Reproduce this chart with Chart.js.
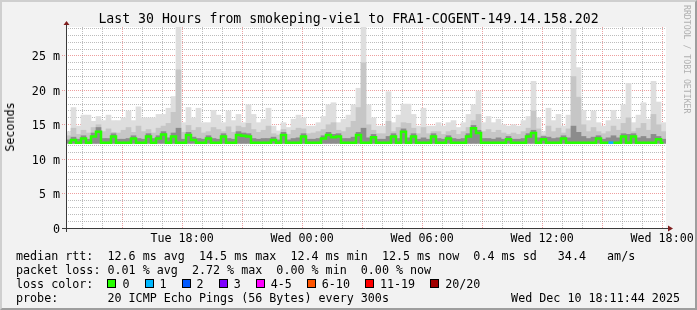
<!DOCTYPE html>
<html>
<head>
<meta charset="utf-8">
<script src="https://cdn.jsdelivr.net/npm/chart.js@4.4.1/dist/chart.umd.min.js"></script>
<style>
  html, body { margin: 0; padding: 0; background: #f2f2f2; }
  #wrap { position: relative; width: 697px; height: 310px; overflow: hidden; font-family: 'DejaVu Sans Mono', monospace; color: #000; }
  #c { position: absolute; left: 0; top: 0; }
  #frame { position: absolute; left: 0; top: 0; width: 697px; height: 310px; box-sizing: border-box;
           border: 2px solid; border-color: #cfcfcf #9e9e9e #9e9e9e #cfcfcf; pointer-events: none; }
  .title { position: absolute; left: 0; top: 11px; width: 697px; text-align: center; font-size: 13.2px; line-height: 16px; white-space: pre; }
  .ylab { position: absolute; left: 10px; top: 127px; font-size: 11.7px; line-height: 14px; transform: translate(-50%, -50%) rotate(-90deg); white-space: pre; }
  .mark { position: absolute; left: 682px; top: 5px; writing-mode: vertical-rl; font-size: 8.2px; line-height: 9px; color: #b0b0b0; white-space: pre; }
  .leg { position: absolute; left: 16px; font-size: 11.7px; line-height: 14px; white-space: pre; }
  .leg.right { left: auto; right: 17px; }
  .box { display: inline-block; width: 7px; height: 7px; border: 1px solid #000; margin-right: 6px; vertical-align: 0px; }
  .lbl { margin-right: 15px; }
</style>
</head>
<body>
<div id="wrap">
  <canvas id="c" width="697" height="310"></canvas>
  <div class="title">Last 30 Hours from smokeping-vie1 to FRA1-COGENT-149.14.158.202</div>
  <div class="ylab">Seconds</div>
  <div class="mark">RRDTOOL / TOBI OETIKER</div>
  <div class="leg" style="top:249px">median rtt:  12.6 ms avg  14.5 ms max  12.4 ms min  12.5 ms now  0.4 ms sd   34.4   am/s</div>
  <div class="leg" style="top:263px">packet loss: 0.01 % avg  2.72 % max  0.00 % min  0.00 % now</div>
  <div class="leg" id="lossRow" style="top:277px">loss color:  </div>
  <div class="leg" style="top:291px">probe:       20 ICMP Echo Pings (56 Bytes) every 300s</div>
  <div class="leg right" style="top:291px">Wed Dec 10 18:11:44 2025</div>
  <div id="frame"></div>
</div>
<script>
// time axis: hours counted from Tue 00:00, graph ends Wed 18:11:44
const T0 = 12 + 11 / 60 + 44 / 3600;
const SPAN = 30;
const STEP = 0.25;          // one smoke column = 15 min
const SMOKE_FLOOR = 12.3;   // ms

const xTickHours = [18, 24, 30, 36, 42];
const xTickLabels = ['Tue 18:00', 'Wed 00:00', 'Wed 06:00', 'Wed 12:00', 'Wed 18:00'];
const yTickValues = [0, 5, 10, 15, 20, 25];
const yTickLabels = ['0', '5 m', '10 m', '15 m', '20 m', '25 m'];

const lossLabels = ['0', '1', '2', '3', '4-5', '6-10', '11-19', '20/20'];
const lossColors = ['#26ff00', '#00b8ff', '#0059ff', '#7e00ff', '#ff00ff', '#ff5500', '#ff0000', '#a10000'];

// top of the lightest smoke (max ping), ms
const maxRtt = [
  14.0, 17.5, 14.8, 16.4, 16.4, 15.5, 16.2, 15.6, 16.4, 15.6,
  15.6, 16.0, 17.0, 15.6, 17.6, 16.0, 16.0, 16.0, 16.5, 16.5,
  17.4, 19.1, 29.2, 15.3, 17.5, 16.0, 17.4, 15.3, 15.3, 17.1,
  16.4, 15.3, 17.0, 15.6, 16.5, 15.3, 17.9, 16.5, 15.3, 15.8,
  17.4, 14.8, 14.1, 15.3, 14.6, 15.8, 16.4, 16.0, 14.8, 14.8,
  15.3, 16.2, 17.9, 18.2, 15.3, 15.8, 16.4, 17.9, 20.3, 29.2,
  17.9, 16.0, 14.8, 14.8, 19.8, 15.3, 16.4, 18.0, 18.0, 16.5,
  14.8, 17.4, 14.8, 14.8, 15.3, 14.8, 15.3, 15.6, 14.6, 15.3,
  16.5, 17.9, 19.9, 15.3, 16.2, 15.3, 15.8, 15.0, 14.8, 15.0,
  14.8, 15.6, 16.2, 21.3, 16.0, 14.0, 17.4, 15.6, 16.5, 14.8,
  16.4, 29.0, 23.3, 17.1, 15.6, 17.0, 15.3, 14.8, 15.6, 17.1,
  15.8, 17.9, 21.0, 15.3, 16.4, 18.2, 15.8, 21.3, 18.3, 15.3
];

// top of the medium smoke
const midRtt = [
  13.4, 14.5, 13.6, 14.2, 13.8, 14.6, 15.0, 14.0, 14.4, 13.9,
  13.8, 14.2, 14.6, 13.9, 14.8, 14.0, 14.3, 13.8, 14.5, 14.8,
  15.2, 16.8, 23.0, 13.9, 14.9, 14.2, 14.6, 13.8, 14.0, 14.6,
  14.3, 14.0, 14.7, 13.9, 14.8, 14.6, 15.2, 14.3, 13.9, 14.2,
  14.8, 13.7, 13.5, 14.3, 13.6, 14.2, 14.5, 14.4, 13.7, 13.8,
  14.0, 14.3, 15.0, 15.3, 14.2, 14.0, 14.6, 15.5, 17.5, 24.0,
  15.0, 14.2, 13.7, 13.7, 15.5, 14.0, 14.6, 15.3, 15.2, 14.5,
  13.7, 14.6, 13.7, 14.0, 14.0, 13.6, 14.0, 14.2, 13.6, 14.0,
  14.6, 15.6, 16.5, 14.0, 14.3, 13.9, 14.2, 13.8, 13.6, 13.8,
  13.6, 14.0, 14.5, 17.0, 14.4, 13.5, 14.8, 14.0, 14.5, 13.8,
  14.4, 22.0, 19.0, 15.0, 14.0, 14.6, 14.0, 13.7, 14.0, 14.8,
  14.2, 15.2, 16.0, 14.0, 14.5, 15.2, 14.2, 16.5, 15.0, 14.0
];

// top of the dark smoke close to the median
const darkRtt = [
  12.8, 13.2, 12.9, 13.4, 12.9, 13.8, 14.6, 13.0, 13.0, 13.7,
  12.9, 12.9, 13.0, 13.4, 13.0, 12.9, 13.7, 13.0, 13.4, 14.0,
  13.1, 13.8, 14.5, 12.9, 13.9, 13.2, 13.0, 12.9, 13.4, 13.0,
  12.9, 13.7, 13.0, 12.9, 14.0, 13.8, 13.7, 13.0, 12.9, 13.0,
  13.0, 13.2, 12.8, 13.9, 12.8, 13.0, 13.1, 13.7, 12.9, 12.9,
  13.0, 13.4, 13.9, 13.6, 13.7, 13.0, 13.0, 13.2, 13.9, 14.5,
  13.1, 13.6, 12.9, 12.9, 13.3, 13.7, 13.0, 14.4, 13.1, 13.7,
  12.9, 13.1, 12.9, 13.7, 13.0, 12.9, 13.4, 13.0, 12.9, 13.0,
  13.7, 14.9, 14.2, 13.0, 13.0, 12.9, 13.1, 12.9, 13.3, 12.9,
  12.9, 13.0, 13.7, 14.2, 13.1, 13.3, 13.2, 13.0, 13.1, 13.4,
  13.1, 14.8, 13.9, 13.3, 13.0, 13.2, 13.4, 12.9, 13.1, 13.4,
  13.1, 13.7, 13.6, 13.7, 13.1, 13.3, 13.0, 13.6, 13.3, 12.9
];

// median rtt
const medianRtt = [
  12.4, 12.8, 12.4, 13.0, 12.4, 13.3, 14.0, 12.4, 12.4, 13.3,
  12.4, 12.4, 12.4, 13.0, 12.4, 12.4, 13.3, 12.4, 13.0, 13.6,
  12.4, 13.3, 12.4, 12.4, 13.5, 12.8, 12.4, 12.4, 13.0, 12.4,
  12.4, 13.3, 12.4, 12.4, 13.5, 13.4, 13.3, 12.4, 12.4, 12.4,
  12.4, 12.8, 12.4, 13.5, 12.4, 12.4, 12.4, 13.3, 12.4, 12.4,
  12.4, 13.0, 13.5, 13.2, 13.3, 12.4, 12.4, 12.4, 13.5, 12.4,
  12.4, 13.2, 12.4, 12.4, 12.4, 13.3, 12.4, 14.0, 12.4, 13.3,
  12.4, 12.4, 12.4, 13.3, 12.4, 12.4, 13.0, 12.4, 12.4, 12.4,
  13.3, 14.5, 13.8, 12.4, 12.4, 12.4, 12.4, 12.4, 12.9, 12.4,
  12.4, 12.4, 13.3, 13.8, 12.4, 12.9, 12.4, 12.4, 12.4, 13.0,
  12.4, 12.4, 12.4, 12.4, 12.4, 12.4, 13.0, 12.4, 12.4, 12.4,
  12.4, 13.3, 12.4, 13.3, 12.4, 12.4, 12.4, 12.4, 12.9, 12.4
];

// columns with packet loss (pings lost out of 20)
const lossSlot = [109];
const lossCount = [1];

const MAJOR = 'rgba(222,79,79,0.55)';
const MINOR = 'rgba(143,143,143,0.6)';
const FONT = { family: "'DejaVu Sans Mono', monospace", size: 11.7 };

// loss color legend row
const row = document.getElementById('lossRow');
lossLabels.forEach((l, i) => {
  row.insertAdjacentHTML('beforeend',
    `<span class="box" style="background:${lossColors[i]}"></span><span class="lbl">${l}</span>`);
});

const xAt = i => T0 + STEP * (i + 0.5);
const band = top => top.map((v, i) => ({ x: xAt(i), y: [SMOKE_FLOOR, v] }));

function lossColorAt(i) {
  const k = lossSlot.indexOf(i);
  if (k < 0) return lossColors[0];
  return lossColors[Math.min(lossCount[k], 1)];
}

const rrdFrame = {
  id: 'rrdFrame',
  beforeDraw(chart) {
    const { ctx, chartArea: a } = chart;
    ctx.save();
    ctx.fillStyle = '#ffffff';
    ctx.fillRect(a.left, a.top, a.right - a.left, a.bottom - a.top);
    ctx.restore();
  },
  afterDraw(chart) {
    const { ctx, chartArea: a } = chart;
    const x0 = a.left + 0.5, y0 = a.bottom + 0.5;
    ctx.save();
    ctx.strokeStyle = '#3a3a3a';
    ctx.lineWidth = 1;
    ctx.beginPath();
    ctx.moveTo(x0, a.bottom + 4);
    ctx.lineTo(x0, a.top - 4);
    ctx.moveTo(a.left - 4, y0);
    ctx.lineTo(a.right + 3, y0);
    ctx.stroke();
    // arrows
    ctx.fillStyle = '#801f1f';
    ctx.beginPath();
    ctx.moveTo(x0 - 3, a.top - 2);
    ctx.lineTo(x0 + 3, a.top - 2);
    ctx.lineTo(x0, a.top - 6);
    ctx.closePath();
    ctx.fill();
    ctx.beginPath();
    ctx.moveTo(a.right + 2, y0 - 3);
    ctx.lineTo(a.right + 2, y0 + 3);
    ctx.lineTo(a.right + 7, y0);
    ctx.closePath();
    ctx.fill();
    ctx.restore();
  }
};

new Chart(document.getElementById('c').getContext('2d'), {
  type: 'bar',
  data: {
    datasets: [
      {
        type: 'line',
        label: 'median rtt',
        data: medianRtt.map((v, i) => ({ x: xAt(i), y: v })),
        borderColor: lossColors[0],
        borderWidth: 2.5,
        pointRadius: 0,
        stepped: 'middle',
        segment: { borderColor: c => lossColorAt(c.p1DataIndex) },
        order: 0
      },
      { label: 'dark', data: band(darkRtt), backgroundColor: '#8c8c8c', grouped: false, order: 1 },
      { label: 'mid', data: band(midRtt), backgroundColor: '#c6c6c6', grouped: false, order: 2 },
      { label: 'light', data: band(maxRtt), backgroundColor: '#dedede', grouped: false, order: 3 }
    ]
  },
  options: {
    responsive: false,
    maintainAspectRatio: false,
    animation: false,
    layout: { padding: { left: 0, right: 31, top: 27, bottom: 0 } },
    datasets: { bar: { barPercentage: 1, categoryPercentage: 1, borderWidth: 0 } },
    plugins: { legend: { display: false }, tooltip: { enabled: false }, title: { display: false } },
    scales: {
      x: {
        type: 'linear',
        min: T0,
        max: T0 + SPAN,
        offset: false,
        z: 1,
        afterBuildTicks: s => {
          const t = [];
          for (let h = Math.ceil(T0); h <= T0 + SPAN; h++) t.push({ value: h });
          s.ticks = t;
        },
        afterFit: s => { s.height = 82; s.paddingLeft = 0; s.paddingRight = 0; },
        grid: {
          offset: false,
          color: c => (c.tick && c.tick.value % 3 === 0) ? MAJOR : MINOR,
          drawTicks: false
        },
        border: { display: false, dash: [1, 1] },
        ticks: {
          autoSkip: false,
          maxRotation: 0,
          padding: 4,
          color: '#000',
          font: FONT,
          callback: v => {
            const k = xTickHours.indexOf(v);
            return k < 0 ? '' : xTickLabels[k];
          }
        }
      },
      y: {
        type: 'linear',
        min: 0,
        max: 29.2,
        z: 1,
        afterBuildTicks: s => {
          const t = [];
          for (let v = 0; v <= 29; v++) t.push({ value: v });
          s.ticks = t;
        },
        afterFit: s => { s.width = 66; s.paddingTop = 0; s.paddingBottom = 0; },
        grid: {
          color: c => (c.tick && c.tick.value % 5 === 0) ? MAJOR : MINOR,
          tickLength: 4,
          tickColor: c => (c.tick && c.tick.value % 5 === 0) ? MAJOR : 'rgba(0,0,0,0)',
          tickBorderDash: [1, 1]
        },
        border: { display: false, dash: [1, 1] },
        ticks: {
          autoSkip: false,
          padding: 2,
          labelOffset: 1.5,
          color: '#000',
          font: FONT,
          callback: v => {
            const k = yTickValues.indexOf(v);
            return k < 0 ? '' : yTickLabels[k];
          }
        }
      }
    }
  },
  plugins: [rrdFrame]
});
</script>
</body>
</html>
